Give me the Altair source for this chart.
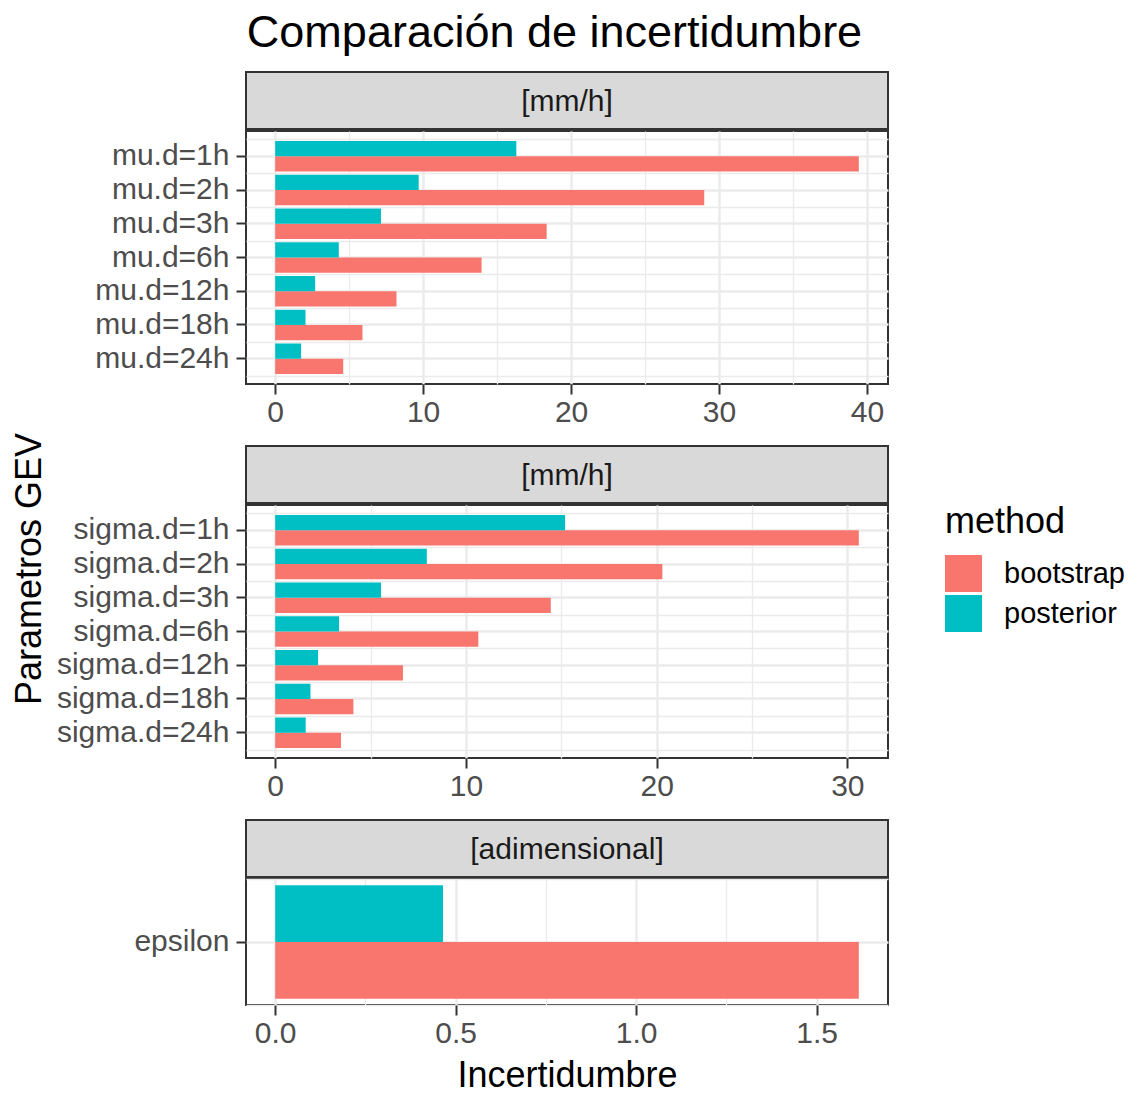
import altair as alt
import pandas as pd

FONT = "Liberation Sans"
GRID = "#EBEBEB"
DARK = "#333333"

# ---- data -------------------------------------------------------------
methods = ["bootstrap", "posterior"]
method_colors = ["#F8766D", "#00BFC4"]

mu_labels = ["mu.d=1h", "mu.d=2h", "mu.d=3h", "mu.d=6h", "mu.d=12h", "mu.d=18h", "mu.d=24h"]
mu_bootstrap = [39.45, 29.0, 18.35, 13.95, 8.2, 5.9, 4.6]
mu_posterior = [16.3, 9.7, 7.15, 4.3, 2.7, 2.05, 1.75]

sigma_labels = ["sigma.d=1h", "sigma.d=2h", "sigma.d=3h", "sigma.d=6h",
                "sigma.d=12h", "sigma.d=18h", "sigma.d=24h"]
sigma_bootstrap = [30.6, 20.3, 14.45, 10.65, 6.7, 4.1, 3.45]
sigma_posterior = [15.2, 7.95, 5.55, 3.35, 2.25, 1.85, 1.6]

eps_labels = ["epsilon"]
eps_bootstrap = [1.617]
eps_posterior = [0.465]

strip_units = ["[mm/h]", "[mm/h]", "[adimensional]"]

mu_ticks, mu_minor = [0, 10, 20, 30, 40], [5, 15, 25, 35]
sigma_ticks, sigma_minor = [0, 10, 20, 30], [5, 15, 25]
eps_ticks, eps_minor = [0, 0.5, 1.0, 1.5], [0.25, 0.75, 1.25]

PANEL_W = 642
STRIP_H = 57
LABEL_SIZE = 30

legend = alt.Legend(
    orient="none", legendX=945, legendY=433,
    title="method", titleFontSize=36, titleFont=FONT, titleFontWeight="normal",
    titleColor="black", titlePadding=14,
    labelFontSize=29, labelFont=FONT, labelColor="black", labelOffset=22,
    symbolType="square", symbolSize=1369, symbolStrokeWidth=0, symbolOpacity=1,
    rowPadding=3,
)


def panel(labels, boot, post, ticks, minor, fmt, height, y_outer, x_title=None):
    df = pd.DataFrame({
        "param": labels * 2,
        "method": ["bootstrap"] * len(labels) + ["posterior"] * len(labels),
        "value": boot + post,
    })
    top = max(boot + post)
    xscale = alt.Scale(domain=[-0.05 * top, 1.05 * top], nice=False, zero=False)
    yscale = alt.Scale(paddingInner=0, paddingOuter=y_outer)
    base = alt.Chart(df)

    # minor grid: x between major breaks, y at category boundaries
    minor_layer = base.mark_bar(opacity=0).encode(
        x=alt.X("value:Q", scale=xscale,
                axis=alt.Axis(orient="top", values=minor, grid=True, gridColor=GRID,
                              gridWidth=1.3, labels=False, ticks=False, domain=False,
                              title=None, minExtent=0)),
        x2=alt.datum(0),
        y=alt.Y("param:N", sort=labels, scale=yscale,
                axis=alt.Axis(orient="right", tickBand="extent", grid=True, gridColor=GRID,
                              gridWidth=1.3, labels=False, ticks=False, domain=False,
                              title=None, minExtent=0)),
    )

    x_axis_kw = dict(
        orient="bottom", values=ticks, format=fmt, grid=True, gridColor=GRID, gridWidth=2.4,
        domain=False, tickColor=DARK, tickWidth=2, tickSize=10,
        labelFontSize=LABEL_SIZE, labelFont=FONT, labelColor="#4D4D4D", labelPadding=3,
        labelFlush=False, labelOverlap=False,
    )
    if x_title:
        x_axis_kw.update(title=x_title, titleFontSize=36, titleFont=FONT,
                         titleFontWeight="normal", titleColor="black", titlePadding=10)
    else:
        x_axis_kw.update(title=None)

    bars = base.mark_bar().encode(
        x=alt.X("value:Q", scale=xscale, axis=alt.Axis(**x_axis_kw)),
        x2=alt.datum(0),
        y=alt.Y("param:N", sort=labels, scale=yscale,
                axis=alt.Axis(orient="left", grid=True, gridColor=GRID, gridWidth=2.4,
                              domain=False, tickColor=DARK, tickWidth=2, tickSize=10,
                              labelFontSize=LABEL_SIZE, labelFont=FONT, labelColor="#4D4D4D",
                              labelPadding=7, title=None)),
        yOffset=alt.YOffset("method:N", sort=["posterior", "bootstrap"],
                            scale=alt.Scale(paddingInner=0, paddingOuter=0.111)),
        color=alt.Color("method:N", scale=alt.Scale(domain=methods, range=method_colors),
                        legend=legend),
    )

    return alt.layer(minor_layer, bars).resolve_axis(
        x="independent", y="independent"
    ).properties(
        width=PANEL_W, height=height,
        view=alt.ViewBackground(fill="white", stroke=DARK, strokeWidth=2),
    )


def strip(label, margin):
    df = pd.DataFrame({"unit": [label]})
    box = alt.Chart(df).mark_rect(fill="#D9D9D9", stroke=DARK, strokeWidth=2).encode(
        x=alt.value(0), x2=alt.value(PANEL_W),
        y=alt.value(margin), y2=alt.value(margin + STRIP_H),
    )
    txt = alt.Chart(df).mark_text(
        font=FONT, fontSize=LABEL_SIZE, color="#1A1A1A", align="center", baseline="middle"
    ).encode(text="unit:N", x=alt.value(PANEL_W / 2), y=alt.value(margin + STRIP_H / 2 + 1))
    return alt.layer(box, txt).properties(
        width=PANEL_W, height=margin + STRIP_H,
        view=alt.ViewBackground(strokeOpacity=0),
    )


GAP = 18

p_mu = panel(mu_labels, mu_bootstrap, mu_posterior, mu_ticks, mu_minor, "d", 253, 0.25)
p_sigma = panel(sigma_labels, sigma_bootstrap, sigma_posterior, sigma_ticks, sigma_minor,
                "d", 253, 0.25)
p_eps = panel(eps_labels, eps_bootstrap, eps_posterior, eps_ticks, eps_minor, ".1f", 126, 0.0,
              x_title="Incertidumbre")

body = alt.vconcat(
    strip(strip_units[0], 0), p_mu,
    strip(strip_units[1], GAP), p_sigma,
    strip(strip_units[2], GAP), p_eps,
    spacing=0,
).resolve_scale(x="independent", y="independent", yOffset="independent", color="shared")

y_title = alt.Chart(pd.DataFrame({"t": ["Parametros GEV"]})).mark_text(
    font=FONT, fontSize=36, angle=270, color="black", align="center", baseline="middle"
).encode(text="t:N", x=alt.value(30), y=alt.value(497)).properties(
    width=51, height=900, view=alt.ViewBackground(strokeOpacity=0)
)

chart = alt.hconcat(y_title, body, spacing=4).properties(
    title=alt.Title("Comparación de incertidumbre", fontSize=45, font=FONT,
                    fontWeight="normal", color="black", anchor="middle", offset=15, dx=-8),
    padding={"left": 0, "top": 11, "right": 0, "bottom": 2},
    background="white",
).configure_view(stroke=None)

chart.save("out.html", embed_options={"renderer": "svg", "actions": False})
